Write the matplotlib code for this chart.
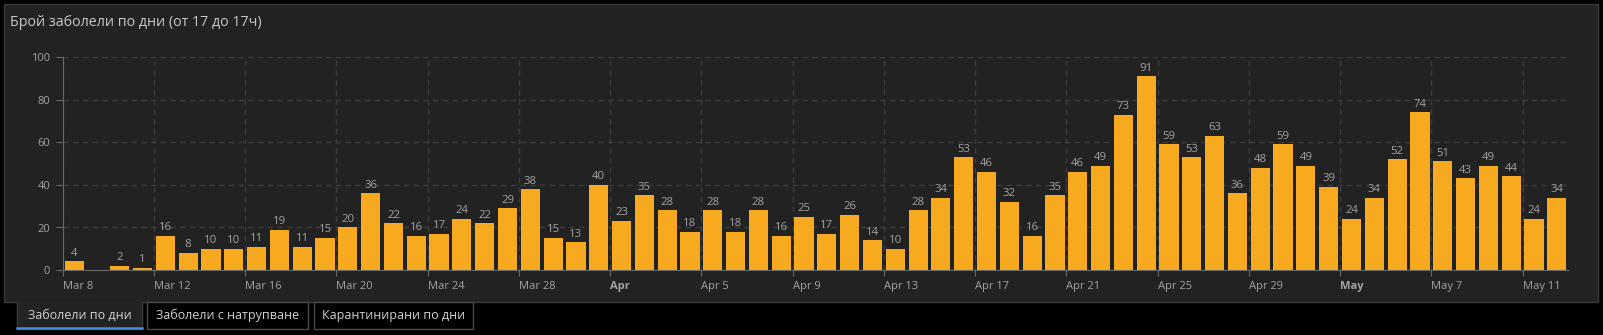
import matplotlib
matplotlib.use("Agg")
import matplotlib.pyplot as plt
from matplotlib.patches import Rectangle
from matplotlib.lines import Line2D
from matplotlib.transforms import ScaledTranslation
import pandas as pd

plt.rcParams['font.family'] = ['Open Sans', 'DejaVu Sans']

# daily new cases (17:00 to 17:00), Mar 8 .. May 12
days = pd.date_range("2020-03-08", "2020-05-12", freq="D")
cases = [4, 0, 2, 1, 16, 8, 10, 10, 11, 19, 11, 15, 20, 36, 22, 16, 17, 24, 22, 29,
         38, 15, 13, 40, 23, 35, 28, 18, 28, 18, 28, 16, 25, 17, 26, 14, 10, 28, 34, 53,
         46, 32, 16, 35, 46, 49, 73, 91, 59, 53, 63, 36, 48, 59, 49, 39, 24, 34, 52, 74,
         51, 43, 49, 44, 24, 34]

title = "Брой заболели по дни (от 17 до 17ч)"
tabs = ["Заболели по дни", "Заболели с натрупване", "Карантинирани по дни"]

W, H = 1603, 335
BG = "#222222"
BAR = "#f7aa20"
GRID = "#3c3c3c"
AXIS = "#6a6a6a"
TXT = "#a3a3a3"

fig = plt.figure(figsize=((W + 0.2) / 100, (H + 0.2) / 100), dpi=100, facecolor="black")


def box(x0, y0, x1, y1):
    # pixel box (top-left origin) -> figure fraction rectangle args
    return (x0 / W, 1 - y1 / H), (x1 - x0) / W, (y1 - y0) / H


# dark panel
xy, w, h = box(4, 4, 1598, 302)
fig.patches.append(Rectangle(xy, w, h, transform=fig.transFigure,
                             facecolor=BG, edgecolor="#3a3a3a", lw=1, zorder=-5))
fig.text(10 / W, 1 - 22 / H, title, color="#c8c8c8", fontsize=10.3,
         ha="left", va="center")

# tab strip under the panel
tab_x = [(17, 142), (147, 308), (314, 473)]
for i, ((x0, x1), label) in enumerate(zip(tab_x, tabs)):
    xy, w, h = box(x0, 302, x1, 329)
    if i == 0:
        fig.patches.append(Rectangle(xy, w, h, transform=fig.transFigure,
                                     facecolor=BG, edgecolor="#3a3a3a", lw=1, zorder=-4))
        fig.lines.append(Line2D([(x0 + 1) / W, (x1 - 1) / W], [1 - 302 / H] * 2,
                                transform=fig.transFigure, color=BG, lw=1.5, zorder=-3))
        fig.lines.append(Line2D([x0 / W, x1 / W], [1 - 328 / H] * 2,
                                transform=fig.transFigure, color="#3d8fe6", lw=1.8, zorder=-2))
    else:
        fig.patches.append(Rectangle(xy, w, h, transform=fig.transFigure,
                                     facecolor="black", edgecolor="#4a4a4a", lw=1, zorder=-4))
    fig.text((x0 + x1) / 2 / W, 1 - 315.5 / H, label, color="#d2d2d2", fontsize=9,
             ha="center", va="center")

# plot area
left, right, top, bottom = 62.7, 1568, 57.3, 270
ax = fig.add_axes([left / W, 1 - bottom / H, (right - left) / W, (bottom - top) / H])
ax.set_facecolor("none")
ax.set_zorder(1)

centers = days + pd.Timedelta(hours=12)
bars = ax.bar(centers, cases, width=0.84, color=BAR, zorder=3)
for b, v in zip(bars, cases):
    if v == 0:
        continue
    ax.annotate(str(v), (b.get_x() + b.get_width() / 2, v), xytext=(0, 2),
                textcoords="offset points", ha="center", va="bottom",
                color=TXT, fontsize=8.2, zorder=4)

ax.set_xlim(days[0], days[-1] + pd.Timedelta(days=1))
ax.set_ylim(0, 100)
ax.set_yticks(range(0, 101, 20))

ticks = days[::4]
ax.set_xticks(ticks)
labels = []
for i, d in enumerate(ticks):
    if i > 0 and d.month != ticks[i - 1].month:
        labels.append(d.strftime("%b"))
    else:
        labels.append(f"{d.strftime('%b')} {d.day}")
ax.set_xticklabels(labels)
shift = ScaledTranslation(0.03, 0, fig.dpi_scale_trans)
for i, (lab, d) in enumerate(zip(ax.get_xticklabels(), ticks)):
    lab.set_ha("left")
    lab.set_transform(lab.get_transform() + shift)
    if i > 0 and d.month != ticks[i - 1].month:
        lab.set_fontweight("bold")

ax.grid(True, color=GRID, ls=(0, (4, 3)), lw=1, zorder=0)
for s in ("top", "right"):
    ax.spines[s].set_visible(False)
for s in ("left", "bottom"):
    ax.spines[s].set_color(AXIS)
    ax.spines[s].set_zorder(5)
ax.tick_params(axis="x", colors=AXIS, labelcolor=TXT, labelsize=8, length=4, pad=4)
ax.tick_params(axis="y", colors=AXIS, labelcolor=TXT, labelsize=8, length=5, pad=4)

fig.savefig("out.png", dpi=100, facecolor="black")
